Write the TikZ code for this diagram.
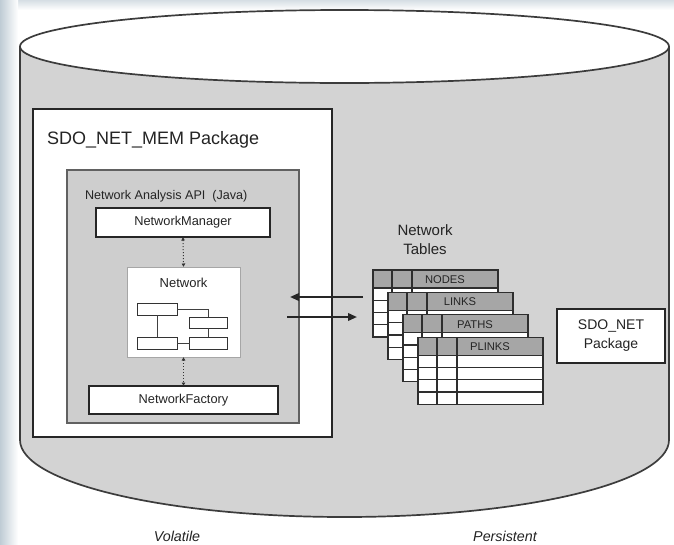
\documentclass[tikz,border=0pt]{standalone}
\usepackage{fontspec}
\setmainfont{Liberation Sans}
\usetikzlibrary{arrows.meta}
\definecolor{cylgray}{HTML}{D3D3D3}
\definecolor{apigray}{HTML}{CECECE}
\definecolor{hdrgray}{HTML}{A6A6A6}
\definecolor{edge}{HTML}{262626}
\definecolor{ink}{HTML}{242424}
\definecolor{bgblue}{HTML}{BFCCD5}
\definecolor{bgtop}{HTML}{D6DEE4}
\newcommand{\fs}[1]{\fontsize{#1}{#1}\selectfont}
\begin{document}
\begin{tikzpicture}[x=1pt,y=-1pt,
  every node/.style={inner sep=0pt, outer sep=0pt, text=ink},
  pkgbox/.style={draw=edge, line width=2.6pt, fill=white},
  apibox/.style={draw=black!62, line width=1.5pt, fill=apigray},
  classbox/.style={draw=edge, line width=2pt, fill=white, font=\fs{12.8}},
  netbox/.style={draw=black!35, line width=0.8pt, fill=white},
  mini/.style={draw=black!80, line width=1pt, fill=white},
  link/.style={draw=black!75, line width=0.9pt},
  dotarrow/.style={draw=black!80, line width=1pt, dotted,
    {Latex[length=3.5pt,width=4pt]}-{Latex[length=3.5pt,width=4pt]}},
  flow/.style={draw=edge, line width=2pt, -{Triangle[length=9pt,width=7.5pt]}},
  tline/.style={draw=black!82, line width=1.2pt},
  tlabel/.style={font=\fs{11.2}, text=ink},
  caption/.style={font=\itshape\fs{14.3}, text=ink},
]
\useasboundingbox (0,0) rectangle (674,544);

% page background with a tinted frame on the left and top
\fill[white] (0,0) rectangle (674,544);
\shade[top color=bgtop, bottom color=white] (0,0) rectangle (674,10);
\shade[left color=bgblue, right color=white] (0,0) rectangle (18,544);

% database cylinder
\fill[cylgray] (20,46.5) -- (20,440)
  arc[start angle=180, end angle=0, x radius=324.5, y radius=77]
  -- (669,46.5)
  arc[start angle=0, end angle=180, x radius=324.5, y radius=36.5] -- cycle;
\draw[edge!90, line width=1.7pt] (20,46.5) -- (20,440)
  arc[start angle=180, end angle=0, x radius=324.5, y radius=77]
  -- (669,46.5);
\draw[edge!90, line width=1.7pt] (344.5,46.5) ellipse[x radius=324.5, y radius=36.5];

% SDO_NET_MEM package
\node[pkgbox, minimum width=299pt, minimum height=328pt] (mem) at (182.5,273) {};
\node[anchor=base west, font=\fs{18}] (memlabel) at (47,144) {SDO\_NET\_MEM Package};

% Network analysis API
\node[apibox, minimum width=232pt, minimum height=253pt] (api) at (183,296.5) {};
\node[anchor=base west, font=\fs{12.6}] (apilabel) at (85,199) {Network Analysis API\ \ (Java)};

\node[classbox, minimum width=174pt, minimum height=29pt] (mgr) at (183,222.5) {NetworkManager};
\node[classbox, minimum width=189pt, minimum height=28pt] (fac) at (183.5,400) {NetworkFactory};

% network object with its small graph
\node[netbox, minimum width=113pt, minimum height=90pt] (net) at (183.5,312) {};
\node[font=\fs{13}] (netlabel) at (183.5,283) {Network};
\node[mini, minimum width=40pt, minimum height=12pt] (b1) at (157,309) {};
\node[mini, minimum width=38pt, minimum height=11pt] (b2) at (208.5,322.5) {};
\node[mini, minimum width=40pt, minimum height=12pt] (b3) at (157,343) {};
\node[mini, minimum width=38pt, minimum height=12pt] (b4) at (208.5,343) {};
\draw[link] (b1.east) -| (b2.north);
\draw[link] (b1.south) -- (b3.north);
\draw[link] (b2.south) -- (b4.north);
\draw[link] (b3.east) -- (b4.west);

\draw[dotarrow] (mgr.south) -- (net.north);
\draw[dotarrow] (net.south) -- (fac.north);

% network tables
\node[font=\fs{15}, align=center, text=ink] (tables) at (425,240)
  {Network\\[4pt]Tables};
\foreach \i/\lab in {0/NODES,1/LINKS,2/PATHS,3/PLINKS}{
  \pgfmathsetmacro\L{373+15*\i}
  \pgfmathsetmacro\T{270+22.4*\i}
  \fill[white] (\L,\T) rectangle ++(125,67);
  \fill[hdrgray] (\L,\T) rectangle ++(125,18);
  \draw[tline] (\L,\T) rectangle ++(125,67);
  \draw[tline] (\L,\T+18) -- ++(125,0);
  \foreach \k in {1,2,3}{
    \draw[tline] (\L,\T+18+12.25*\k) -- ++(125,0);
  }
  \draw[tline] (\L+19,\T) -- ++(0,67);
  \draw[tline] (\L+39,\T) -- ++(0,67);
  \node[tlabel] (tab\i) at (\L+72,\T+9.5) {\lab};
}

% data flow between the tables and the API
\coordinate (readsrc) at (363,297);
\coordinate (readdst) at (290,297);
\coordinate (writesrc) at (287,317);
\coordinate (writedst) at (357,317);
\draw[flow] (readsrc) -- (readdst);
\draw[flow] (writesrc) -- (writedst);

% SDO_NET package
\node[pkgbox, minimum width=108pt, minimum height=54pt, align=center,
  font=\fs{14}] (net2) at (611,336) {SDO\_NET\\[5pt]Package};

% captions
\node[caption] (vol) at (177,536) {Volatile};
\node[caption] (per) at (505,536) {Persistent};
\end{tikzpicture}
\end{document}
